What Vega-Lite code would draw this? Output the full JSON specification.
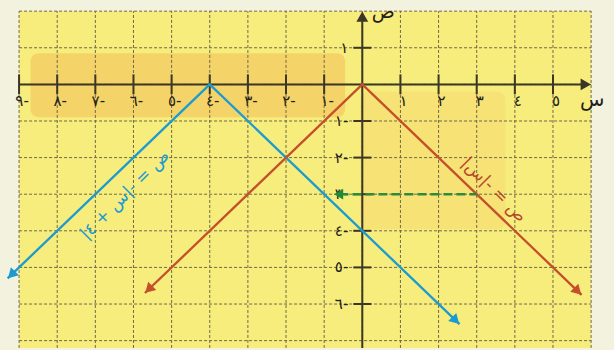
{
  "$schema": "https://vega.github.io/schema/vega-lite/v6.json",
  "width": 614,
  "height": 350,
  "autosize": {"type": "fit", "contains": "padding"},
  "padding": 0,
  "background": "#f3f2de",
  "config": {"view": {"stroke": null}, "font": "DejaVu Sans"},
  "datasets": {
    "gx": [{"x": -9}, {"x": -8}, {"x": -7}, {"x": -6}, {"x": -5}, {"x": -4}, {"x": -3}, {"x": -2}, {"x": -1}, {"x": 0}, {"x": 1}, {"x": 2}, {"x": 3}, {"x": 4}, {"x": 5}, {"x": 6}],
    "gy": [{"y": 2}, {"y": 1}, {"y": 0}, {"y": -1}, {"y": -2}, {"y": -3}, {"y": -4}, {"y": -5}, {"y": -6}, {"y": -7}],
    "xt": [{"x": -9, "lab": "٩-"}, {"x": -8, "lab": "٨-"}, {"x": -7, "lab": "٧-"}, {"x": -6, "lab": "٦-"}, {"x": -5, "lab": "٥-"}, {"x": -4, "lab": "٤-"}, {"x": -3, "lab": "٣-"}, {"x": -2, "lab": "٢-"}, {"x": -1, "lab": "١-"}, {"x": 1, "lab": "١"}, {"x": 2, "lab": "٢"}, {"x": 3, "lab": "٣"}, {"x": 4, "lab": "٤"}, {"x": 5, "lab": "٥"}],
    "yt": [{"y": 1, "lab": "١"}, {"y": -1, "lab": "١-"}, {"y": -2, "lab": "٢-"}, {"y": -3, "lab": "٣-"}, {"y": -4, "lab": "٤-"}, {"y": -5, "lab": "٥-"}, {"y": -6, "lab": "٦-"}],
    "lines": [
      {"series": "b", "x": -9.3, "y": -5.3}, {"series": "b", "x": -4, "y": 0}, {"series": "b", "x": 2.55, "y": -6.55},
      {"series": "r", "x": -5.7, "y": -5.7}, {"series": "r", "x": 0, "y": 0}, {"series": "r", "x": 5.75, "y": -5.75}
    ],
    "ends": [
      {"series": "b", "end": "left", "x": -9.2, "y": -5.2}, {"series": "b", "end": "right", "x": 2.45, "y": -6.45},
      {"series": "r", "end": "left", "x": -5.6, "y": -5.6}, {"series": "r", "end": "right", "x": 5.65, "y": -5.65}
    ]
  },
  "layer": [
    {
      "data": {"values": [{}]},
      "mark": {"type": "rect", "color": "#f7ed7c"},
      "encoding": {
        "x": {"datum": -9, "type": "quantitative", "scale": {"domain": [-9.5, 6.6], "nice": false, "zero": false}, "axis": null},
        "x2": {"datum": 6},
        "y": {"datum": 2, "type": "quantitative", "scale": {"domain": [-7.01, 2.305], "nice": false, "zero": false}, "axis": null},
        "y2": {"datum": -7.2}
      }
    },
    {
      "data": {"values": [{}]},
      "mark": {"type": "rect", "color": "#f09a3c", "opacity": 0.3, "cornerRadius": 8},
      "encoding": {
        "x": {"datum": -8.7, "type": "quantitative", "scale": {"domain": [-9.5, 6.6], "nice": false, "zero": false}, "axis": null},
        "x2": {"datum": -0.45},
        "y": {"datum": 0.85, "type": "quantitative", "scale": {"domain": [-7.01, 2.305], "nice": false, "zero": false}, "axis": null},
        "y2": {"datum": -0.9}
      }
    },
    {
      "data": {"values": [{}]},
      "mark": {"type": "rect", "color": "#f0a850", "opacity": 0.15, "cornerRadius": 8},
      "encoding": {
        "x": {"datum": -0.05, "type": "quantitative", "scale": {"domain": [-9.5, 6.6], "nice": false, "zero": false}, "axis": null},
        "x2": {"datum": 3.75},
        "y": {"datum": -0.2, "type": "quantitative", "scale": {"domain": [-7.01, 2.305], "nice": false, "zero": false}, "axis": null},
        "y2": {"datum": -3.95}
      }
    },
    {
      "data": {"name": "gx"},
      "mark": {"type": "rule", "color": "#6e6848", "strokeWidth": 1, "strokeDash": [3, 2]},
      "encoding": {
        "x": {"field": "x", "type": "quantitative", "scale": {"domain": [-9.5, 6.6], "nice": false, "zero": false}, "axis": null},
        "y": {"datum": -7.2, "type": "quantitative", "scale": {"domain": [-7.01, 2.305], "nice": false, "zero": false}, "axis": null},
        "y2": {"datum": 2}
      }
    },
    {
      "data": {"name": "gy"},
      "mark": {"type": "rule", "color": "#6e6848", "strokeWidth": 1, "strokeDash": [3, 2]},
      "encoding": {
        "y": {"field": "y", "type": "quantitative", "scale": {"domain": [-7.01, 2.305], "nice": false, "zero": false}, "axis": null},
        "x": {"datum": -9, "type": "quantitative", "scale": {"domain": [-9.5, 6.6], "nice": false, "zero": false}, "axis": null},
        "x2": {"datum": 6}
      }
    },
    {
      "data": {"values": [{}]},
      "mark": {"type": "rule", "color": "#3b3626", "strokeWidth": 2},
      "encoding": {
        "y": {"datum": 0, "type": "quantitative", "scale": {"domain": [-7.01, 2.305], "nice": false, "zero": false}, "axis": null},
        "x": {"datum": -9, "type": "quantitative", "scale": {"domain": [-9.5, 6.6], "nice": false, "zero": false}, "axis": null},
        "x2": {"datum": 5.8}
      }
    },
    {
      "data": {"values": [{}]},
      "mark": {"type": "rule", "color": "#3b3626", "strokeWidth": 2},
      "encoding": {
        "x": {"datum": 0, "type": "quantitative", "scale": {"domain": [-9.5, 6.6], "nice": false, "zero": false}, "axis": null},
        "y": {"datum": -7.2, "type": "quantitative", "scale": {"domain": [-7.01, 2.305], "nice": false, "zero": false}, "axis": null},
        "y2": {"datum": 1.8}
      }
    },
    {
      "data": {"values": [{}]},
      "mark": {"type": "point", "shape": "triangle-right", "filled": true, "color": "#3b3626", "opacity": 1, "size": 140},
      "encoding": {
        "x": {"datum": 5.86, "type": "quantitative", "scale": {"domain": [-9.5, 6.6], "nice": false, "zero": false}, "axis": null},
        "y": {"datum": 0, "type": "quantitative", "scale": {"domain": [-7.01, 2.305], "nice": false, "zero": false}, "axis": null}
      }
    },
    {
      "data": {"values": [{}]},
      "mark": {"type": "point", "shape": "triangle-up", "filled": true, "color": "#3b3626", "opacity": 1, "size": 140},
      "encoding": {
        "x": {"datum": 0, "type": "quantitative", "scale": {"domain": [-9.5, 6.6], "nice": false, "zero": false}, "axis": null},
        "y": {"datum": 1.85, "type": "quantitative", "scale": {"domain": [-7.01, 2.305], "nice": false, "zero": false}, "axis": null}
      }
    },
    {
      "data": {"name": "xt"},
      "mark": {"type": "tick", "orient": "vertical", "size": 20, "thickness": 2, "color": "#3b3626", "opacity": 1},
      "encoding": {
        "x": {"field": "x", "type": "quantitative", "scale": {"domain": [-9.5, 6.6], "nice": false, "zero": false}, "axis": null},
        "y": {"datum": 0, "type": "quantitative", "scale": {"domain": [-7.01, 2.305], "nice": false, "zero": false}, "axis": null}
      }
    },
    {
      "data": {"name": "yt"},
      "mark": {"type": "tick", "orient": "horizontal", "size": 18, "thickness": 2, "color": "#3b3626", "opacity": 1},
      "encoding": {
        "y": {"field": "y", "type": "quantitative", "scale": {"domain": [-7.01, 2.305], "nice": false, "zero": false}, "axis": null},
        "x": {"datum": 0, "type": "quantitative", "scale": {"domain": [-9.5, 6.6], "nice": false, "zero": false}, "axis": null}
      }
    },
    {
      "data": {"name": "xt"},
      "mark": {"type": "text", "fontSize": 15, "color": "#222018", "baseline": "middle", "align": "center", "dy": 17, "dx": 3},
      "encoding": {
        "x": {"field": "x", "type": "quantitative", "scale": {"domain": [-9.5, 6.6], "nice": false, "zero": false}, "axis": null},
        "y": {"datum": 0, "type": "quantitative", "scale": {"domain": [-7.01, 2.305], "nice": false, "zero": false}, "axis": null},
        "text": {"field": "lab"}
      }
    },
    {
      "data": {"name": "yt"},
      "mark": {"type": "text", "fontSize": 15, "color": "#222018", "baseline": "middle", "align": "right", "dx": -14},
      "encoding": {
        "y": {"field": "y", "type": "quantitative", "scale": {"domain": [-7.01, 2.305], "nice": false, "zero": false}, "axis": null},
        "x": {"datum": 0, "type": "quantitative", "scale": {"domain": [-9.5, 6.6], "nice": false, "zero": false}, "axis": null},
        "text": {"field": "lab"}
      }
    },
    {
      "data": {"name": "lines"},
      "mark": {"type": "line", "strokeWidth": 2.3},
      "encoding": {
        "x": {"field": "x", "type": "quantitative", "scale": {"domain": [-9.5, 6.6], "nice": false, "zero": false}, "axis": null},
        "y": {"field": "y", "type": "quantitative", "scale": {"domain": [-7.01, 2.305], "nice": false, "zero": false}, "axis": null},
        "color": {"field": "series", "type": "nominal", "scale": {"domain": ["b", "r"], "range": ["#1c9bd0", "#c4502b"]}, "legend": null},
        "order": {"field": "x", "type": "quantitative"}
      }
    },
    {
      "data": {"name": "ends"},
      "transform": [{"filter": "datum.end === 'left'"}],
      "mark": {"type": "point", "shape": "triangle-up", "filled": true, "opacity": 1, "size": 130, "angle": 225},
      "encoding": {
        "x": {"field": "x", "type": "quantitative", "scale": {"domain": [-9.5, 6.6], "nice": false, "zero": false}, "axis": null},
        "y": {"field": "y", "type": "quantitative", "scale": {"domain": [-7.01, 2.305], "nice": false, "zero": false}, "axis": null},
        "color": {"field": "series", "type": "nominal", "scale": {"domain": ["b", "r"], "range": ["#1c9bd0", "#c4502b"]}, "legend": null}
      }
    },
    {
      "data": {"name": "ends"},
      "transform": [{"filter": "datum.end === 'right'"}],
      "mark": {"type": "point", "shape": "triangle-up", "filled": true, "opacity": 1, "size": 130, "angle": 135},
      "encoding": {
        "x": {"field": "x", "type": "quantitative", "scale": {"domain": [-9.5, 6.6], "nice": false, "zero": false}, "axis": null},
        "y": {"field": "y", "type": "quantitative", "scale": {"domain": [-7.01, 2.305], "nice": false, "zero": false}, "axis": null},
        "color": {"field": "series", "type": "nominal", "scale": {"domain": ["b", "r"], "range": ["#1c9bd0", "#c4502b"]}, "legend": null}
      }
    },
    {
      "data": {"values": [{}]},
      "mark": {"type": "rule", "color": "#2e8a3c", "strokeWidth": 2.5, "strokeDash": [9, 4]},
      "encoding": {
        "y": {"datum": -3, "type": "quantitative", "scale": {"domain": [-7.01, 2.305], "nice": false, "zero": false}, "axis": null},
        "x": {"datum": -0.6, "type": "quantitative", "scale": {"domain": [-9.5, 6.6], "nice": false, "zero": false}, "axis": null},
        "x2": {"datum": 3}
      }
    },
    {
      "data": {"values": [{}]},
      "mark": {"type": "point", "shape": "triangle-left", "filled": true, "color": "#1f8a3a", "opacity": 1, "size": 110},
      "encoding": {
        "x": {"datum": -0.62, "type": "quantitative", "scale": {"domain": [-9.5, 6.6], "nice": false, "zero": false}, "axis": null},
        "y": {"datum": -3, "type": "quantitative", "scale": {"domain": [-7.01, 2.305], "nice": false, "zero": false}, "axis": null}
      }
    },
    {
      "data": {"values": [{}]},
      "mark": {"type": "text", "text": "ص = -|س|‏", "angle": 45, "fontSize": 17, "color": "#b8482a", "align": "center", "baseline": "middle"},
      "encoding": {
        "x": {"datum": 3.45, "type": "quantitative", "scale": {"domain": [-9.5, 6.6], "nice": false, "zero": false}, "axis": null},
        "y": {"datum": -2.88, "type": "quantitative", "scale": {"domain": [-7.01, 2.305], "nice": false, "zero": false}, "axis": null}
      }
    },
    {
      "data": {"values": [{}]},
      "mark": {"type": "text", "text": "ص = -|س + ٤|‏", "angle": -45, "fontSize": 17, "color": "#1c9bd0", "align": "center", "baseline": "middle"},
      "encoding": {
        "x": {"datum": -6.22, "type": "quantitative", "scale": {"domain": [-9.5, 6.6], "nice": false, "zero": false}, "axis": null},
        "y": {"datum": -3.02, "type": "quantitative", "scale": {"domain": [-7.01, 2.305], "nice": false, "zero": false}, "axis": null}
      }
    },
    {
      "data": {"values": [{}]},
      "mark": {"type": "text", "text": "ص", "fontSize": 19, "color": "#222018", "align": "center", "baseline": "middle"},
      "encoding": {
        "x": {"datum": 0.55, "type": "quantitative", "scale": {"domain": [-9.5, 6.6], "nice": false, "zero": false}, "axis": null},
        "y": {"datum": 1.98, "type": "quantitative", "scale": {"domain": [-7.01, 2.305], "nice": false, "zero": false}, "axis": null}
      }
    },
    {
      "data": {"values": [{}]},
      "mark": {"type": "text", "text": "س", "fontSize": 20, "color": "#222018", "align": "center", "baseline": "middle"},
      "encoding": {
        "x": {"datum": 6.03, "type": "quantitative", "scale": {"domain": [-9.5, 6.6], "nice": false, "zero": false}, "axis": null},
        "y": {"datum": -0.42, "type": "quantitative", "scale": {"domain": [-7.01, 2.305], "nice": false, "zero": false}, "axis": null}
      }
    }
  ]
}
